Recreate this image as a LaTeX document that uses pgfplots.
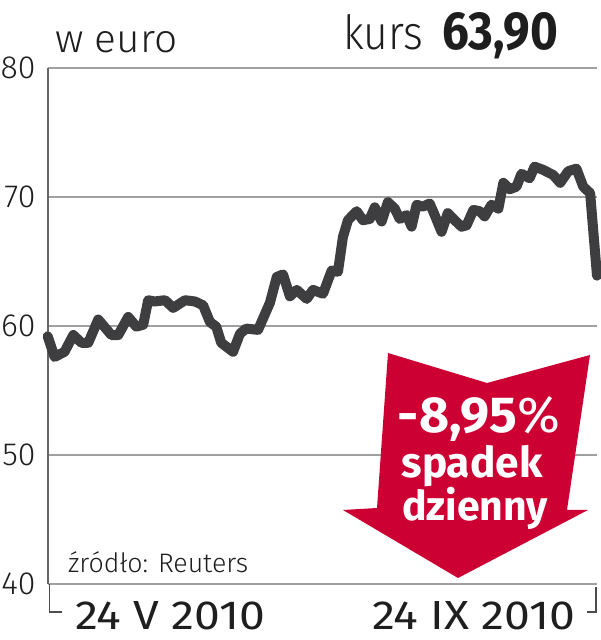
\documentclass[border=0pt]{standalone}
\usepackage{pgfplots}
\pgfplotsset{compat=1.18}
\usepackage{fontspec}
\setmainfont{Fira Sans}
\newfontfamily\lightfont{Fira Sans Light}
\usepackage{graphicx}
\definecolor{linec}{RGB}{62,62,64}
\definecolor{gridc}{RGB}{160,160,160}
\definecolor{redc}{RGB}{204,0,51}
\definecolor{txt}{RGB}{30,30,30}
\begin{document}
\begin{tikzpicture}[x=1pt,y=1pt]
\useasboundingbox (0,0) rectangle (601,640);
\begin{axis}[at={(47.7pt,56pt)}, anchor=south west, scale only axis,
  width=549.3pt, height=516pt, xmin=0, xmax=88, ymin=40, ymax=80,
  clip=false, axis line style={draw=none}, xtick=\empty,
  ytick={40,50,60,70,80}, yticklabels={40,50,60,70,80},
  major tick length=0pt, ymajorgrids,
  grid style={draw=gridc, line width=1.8pt},
  yticklabel style={font=\lightfont\fontsize{32}{32}\selectfont, text=txt, inner sep=0pt, xshift=-12pt}]
\draw[draw=black!60, line width=1.8pt] (rel axis cs:0,0) -- (rel axis cs:0,1);
\addplot[linec, line width=10pt, line cap=round, line join=round] coordinates {
(0,59.2) (1.1,57.6) (2.7,58.0) (4.1,59.3) (5.4,58.7) (6.5,58.7) (8.1,60.5)
(10.2,59.3) (11.3,59.3) (12.9,60.7) (14.2,59.95) (15.3,60.1) (16.1,62.0)
(17.1,61.9) (18.8,62.0) (20.1,61.4) (22.0,62.0) (23.6,61.9) (24.9,61.6)
(26.0,60.3) (27.0,59.95) (27.8,58.7) (29.7,58.0) (30.8,59.4) (31.8,59.8)
(33.7,59.7) (35.6,61.8) (36.7,63.8) (37.7,64.0) (38.8,62.3) (39.9,62.8)
(41.5,62.1) (42.5,62.8) (44.1,62.5) (45.5,64.3) (46.5,64.2) (47.3,66.9)
(48.1,68.2) (49.5,68.9) (50.5,68.2) (51.6,68.3) (52.4,69.2) (53.5,68.1)
(54.5,69.6) (55.6,69.1) (56.4,68.3) (57.5,68.6) (58.3,67.7) (59.1,69.4)
(60.1,69.25) (61.2,69.5) (62.0,68.6) (63.1,67.3) (64.1,68.75) (65.2,68.2)
(66.3,67.7) (67.1,67.8) (68.2,69.0) (69.2,68.9) (70.0,68.5) (71.1,69.4)
(72.2,69.1) (73.0,71.1) (74.0,70.6) (75.1,70.8) (75.9,71.8) (77.2,71.45)
(78.0,72.35) (79.4,72.1) (81.0,71.7) (82.1,71.1) (83.4,72.0) (84.7,72.2)
(85.8,70.8) (86.9,70.3) (88.0,63.9)
};
\end{axis}
% brackets
\draw[draw=black!70, line width=1.8pt] (49.5,56) -- (49.5,28) -- (62,28);
\draw[draw=black!70, line width=1.8pt] (596,53) -- (596,28) -- (587,28);
% titles
\node[anchor=base west, inner sep=0, text=txt] at (55,587) {\resizebox{122pt}{21pt}{\lightfont w euro}};
\node[anchor=base west, inner sep=0, text=txt] at (343,590) {\resizebox{80pt}{35pt}{\lightfont kurs}};
\node[anchor=base west, inner sep=0, text=txt] at (442,590) {\resizebox{116pt}{37pt}{\bfseries 63,90}};
\node[anchor=base west, inner sep=0, text=txt] at (68,67) {\resizebox{180pt}{!}{\lightfont\fontsize{30}{30}\selectfont źródło: Reuters}};
\node[anchor=base west, inner sep=0, text=txt] at (75,10) {\resizebox{190pt}{28pt}{24 V 2010}};
\node[anchor=base west, inner sep=0, text=txt] at (372,10) {\resizebox{203pt}{28pt}{24 IX 2010}};
% arrow
\fill[redc] (388,287) -- (487,257) -- (590,285) -- (567,130) -- (588,130) -- (458,62) -- (343,130) -- (377,132) -- cycle;
\node[anchor=base, inner sep=0, text=white] at (479,207) {\resizebox{162pt}{36pt}{\bfseries -8,95\mdseries\%}};
\node[anchor=base, inner sep=0, text=white] at (472,162) {\resizebox{141pt}{!}{\bfseries\fontsize{42}{42}\selectfont spadek}};
\node[anchor=base, inner sep=0, text=white] at (475,119) {\resizebox{146pt}{!}{\bfseries\fontsize{42}{42}\selectfont dzienny}};
\end{tikzpicture}
\end{document}
